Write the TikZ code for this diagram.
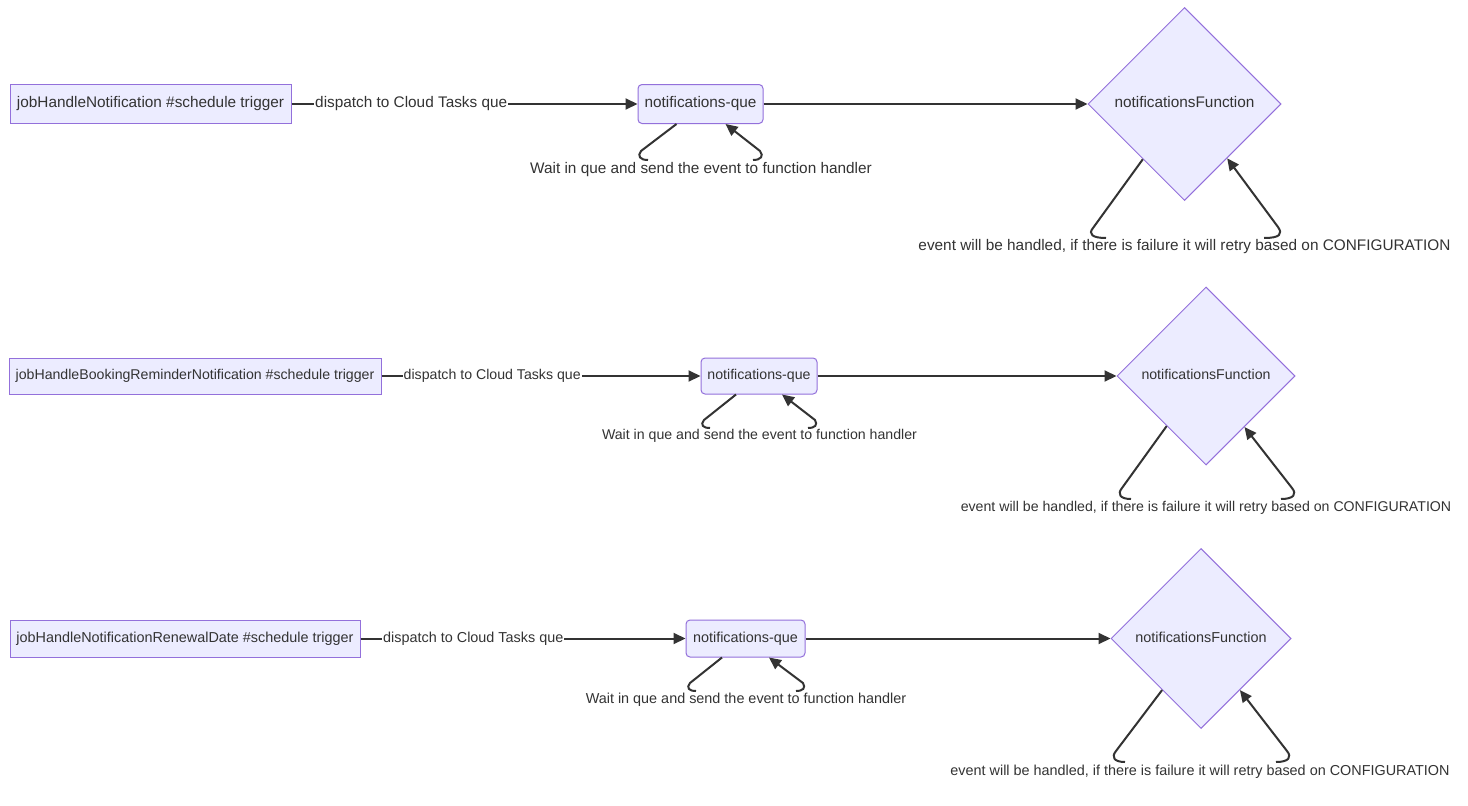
\documentclass[tikz,border=0pt]{standalone}
\usepackage{fontspec}
\setmainfont{Liberation Sans}
\usetikzlibrary{shapes.geometric,arrows.meta,calc}
\definecolor{nodefill}{HTML}{ECECFF}
\definecolor{nodeline}{HTML}{9370DB}
\definecolor{ink}{HTML}{333333}
\tikzset{
  txt/.style={text=ink, text height=0.8em, text depth=0.05em},
  job/.style={rectangle, draw=nodeline, fill=nodefill, line width=1pt, txt, inner sep=0pt},
  que/.style={job, rounded corners=4pt},
  fn/.style={diamond, aspect=1, draw=nodeline, fill=nodefill, line width=1pt, txt, inner sep=0pt},
  flow/.style={draw=ink, line width=2pt, -{Triangle[length=12pt,width=11pt]}},
  plain/.style={draw=ink, line width=2pt},
  elabel/.style={txt, inner sep=1pt, fill=white},
  rowA/.style={font=\fontsize{15.35}{18}\selectfont},
  rowB/.style={font=\fontsize{14.15}{17}\selectfont},
  rowC/.style={font=\fontsize{14.4}{17}\selectfont},
}
\begin{document}
\begin{tikzpicture}[x=1pt, y=-1pt]
\useasboundingbox[fill=white] (0,0) rectangle (1468,806);

% ---------- first pipeline ----------
\begin{scope}[rowA]
\node[job, minimum width=281, minimum height=39] (a1) at (150.5,104) {jobHandleNotification \#schedule trigger};
\node[que, minimum width=125, minimum height=39] (q1) at (700.5,104) {notifications-que};
\node[fn, minimum size=193] (d1) at (1184.5,104) {notificationsFunction};
\draw[flow] (a1.east) -- node[elabel, pos=0.346] (l1) {dispatch to Cloud Tasks que} (q1.west);
\draw[flow] (q1.east) -- (d1.west);
\node[elabel] (w1) at (701,170) {Wait in que and send the event to function handler};
\coordinate (w1a) at (648,160);
\coordinate (w1b) at (753,160);
\draw[plain] ($(q1.south)+(-24,0)$) -- (641,151) .. controls (637,156) and (640,160) .. (w1a);
\draw[flow] (w1b) .. controls (761,160) and (764,156) .. (760,151) -- ($(q1.south)+(25,0)$);
\node[elabel] (e1) at (1184.5,246.5) {event will be handled, if there is failure it will retry based on CONFIGURATION};
\coordinate (e1a) at (1106,238);
\coordinate (e1b) at (1264,238);
\draw[plain] ($(d1.west)!0.57!(d1.south)$) -- (1093,228) .. controls (1088,234) and (1092,238) .. (e1a);
\draw[flow] (e1b) .. controls (1280,238) and (1283,234) .. (1278,227) -- ($(d1.south)!0.44!(d1.east)$);
\end{scope}

% ---------- second pipeline ----------
\begin{scope}[rowB]
\node[job, minimum width=372, minimum height=36] (a2) at (195,376) {jobHandleBookingReminderNotification \#schedule trigger};
\node[que, minimum width=116, minimum height=36] (q2) at (759,376) {notifications-que};
\node[fn, minimum size=178] (d2) at (1206,376) {notificationsFunction};
\draw[flow] (a2.east) -- node[elabel, pos=0.347] (l2) {dispatch to Cloud Tasks que} (q2.west);
\draw[flow] (q2.east) -- (d2.west);
\node[elabel] (w2) at (759.5,436) {Wait in que and send the event to function handler};
\coordinate (w2a) at (710,428);
\coordinate (w2b) at (808,428);
\draw[plain] ($(q2.south)+(-23,0)$) -- (704,420) .. controls (700,425) and (703,428) .. (w2a);
\draw[flow] (w2b) .. controls (815,428) and (818,425) .. (815,420) -- ($(q2.south)+(23,0)$);
\node[elabel] (e2) at (1206,507.5) {event will be handled, if there is failure it will retry based on CONFIGURATION};
\coordinate (e2a) at (1131,499);
\coordinate (e2b) at (1281,499);
\draw[plain] ($(d2.west)!0.56!(d2.south)$) -- (1122,488) .. controls (1117,494) and (1120,499) .. (e2a);
\draw[flow] (e2b) .. controls (1294,499) and (1297,494) .. (1292,488) -- ($(d2.south)!0.43!(d2.east)$);
\end{scope}

% ---------- third pipeline ----------
\begin{scope}[rowC]
\node[job, minimum width=350, minimum height=37] (a3) at (185,638.5) {jobHandleNotificationRenewalDate \#schedule trigger};
\node[que, minimum width=119, minimum height=37] (q3) at (745.5,638.5) {notifications-que};
\node[fn, minimum size=180] (d3) at (1201,638.5) {notificationsFunction};
\draw[flow] (a3.east) -- node[elabel, pos=0.347] (l3) {dispatch to Cloud Tasks que} (q3.west);
\draw[flow] (q3.east) -- (d3.west);
\node[elabel] (w3) at (746,700) {Wait in que and send the event to function handler};
\coordinate (w3a) at (696,691);
\coordinate (w3b) at (796,691);
\draw[plain] ($(q3.south)+(-23.5,0)$) -- (690,683) .. controls (686,688) and (689,691) .. (w3a);
\draw[flow] (w3b) .. controls (803,691) and (806,688) .. (803,683) -- ($(q3.south)+(23.5,0)$);
\node[elabel] (e3) at (1200,772) {event will be handled, if there is failure it will retry based on CONFIGURATION};
\coordinate (e3a) at (1125,762);
\coordinate (e3b) at (1276,762);
\draw[plain] ($(d3.west)!0.57!(d3.south)$) -- (1116,751) .. controls (1111,757) and (1114,762) .. (e3a);
\draw[flow] (e3b) .. controls (1289,762) and (1292,757) .. (1287,751) -- ($(d3.south)!0.43!(d3.east)$);
\end{scope}
\end{tikzpicture}
\end{document}
